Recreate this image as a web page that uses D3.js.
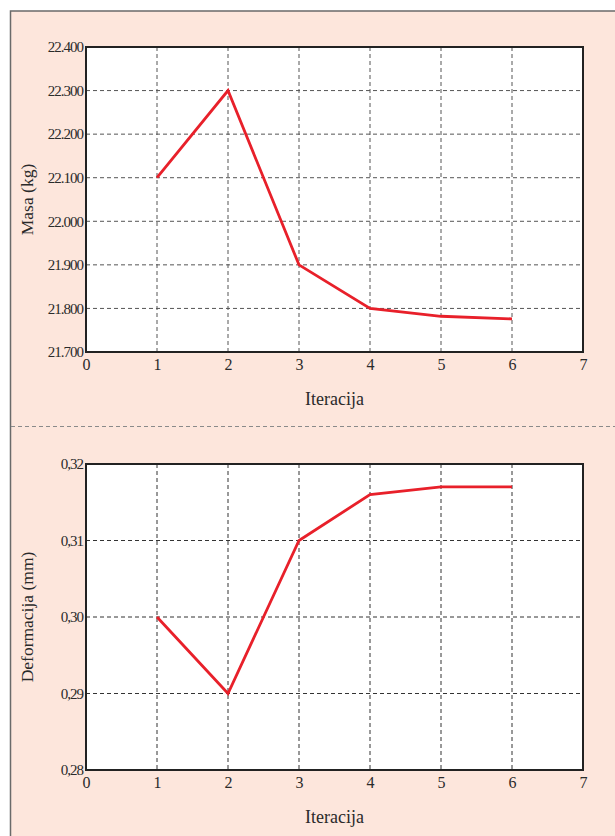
<!DOCTYPE html>
<html><head><meta charset="utf-8">
<script src="https://cdn.jsdelivr.net/npm/d3@7"></script>
<style>
body{margin:0;background:#fff;}
svg{display:block;}
</style></head><body>
<svg id="c" width="615" height="836"></svg>
<script>
const iterations = [1, 2, 3, 4, 5, 6];
const masa = [22100, 22300, 21900, 21800, 21782, 21776];
const deformacija = [0.300, 0.290, 0.310, 0.316, 0.317, 0.317];
const xTicks = [0, 1, 2, 3, 4, 5, 6, 7];
const masaTicks = [21700, 21800, 21900, 22000, 22100, 22200, 22300, 22400];
const masaTickLabels = ["21.700","21.800","21.900","22.000","22.100","22.200","22.300","22.400"];
const defTicks = [0.28, 0.29, 0.30, 0.31, 0.32];
const defTickLabels = ["0,28","0,29","0,30","0,31","0,32"];

const FONT = "'Liberation Serif', 'DejaVu Serif', 'Times New Roman', serif";
const svg = d3.select("#c");
// frame
svg.append("rect").attr("x",10.5).attr("y",11).attr("width",620).attr("height",840)
  .attr("fill","#fde6dc").attr("stroke","#6a6a6a").attr("stroke-width",1.5);
// separator
svg.append("line").attr("x1",11).attr("x2",615).attr("y1",426.5).attr("y2",426.5)
  .attr("stroke","#8a8a8a").attr("stroke-width",1).attr("stroke-dasharray","4,3");

function panel(cfg){
  const L=86, R=583, T=cfg.top, B=cfg.bottom;
  const x = d3.scaleLinear().domain([0,7]).range([L,R]);
  const y = d3.scaleLinear().domain(cfg.domain).range([B,T]);
  const g = svg.append("g");
  g.append("rect").attr("x",L).attr("y",T).attr("width",R-L).attr("height",B-T).attr("fill","#fff");
  // grid
  g.selectAll(".vg").data(xTicks.filter(d=>d>0&&d<7)).join("line")
    .attr("x1",d=>x(d)).attr("x2",d=>x(d)).attr("y1",T).attr("y2",B)
    .attr("stroke",cfg.grid).attr("stroke-width",1).attr("stroke-dasharray","4,3");
  g.selectAll(".hg").data(cfg.ticks.slice(1,-1)).join("line")
    .attr("x1",L).attr("x2",R).attr("y1",d=>y(d)).attr("y2",d=>y(d))
    .attr("stroke",cfg.grid).attr("stroke-width",1).attr("stroke-dasharray","4,3");
  // line
  const line = d3.line().x((d,i)=>x(iterations[i])).y(d=>y(d));
  g.append("path").datum(cfg.values).attr("d",line).attr("fill","none")
    .attr("stroke","#e8202a").attr("stroke-width",2.8).attr("stroke-linejoin","miter");
  // border
  g.append("rect").attr("x",L).attr("y",T).attr("width",R-L).attr("height",B-T)
    .attr("fill","none").attr("stroke","#222").attr("stroke-width",2);
  // axes
  const ya = d3.axisLeft(y).tickValues(cfg.ticks).tickFormat((d,i)=>cfg.labels[i]).tickSize(0).tickPadding(3);
  const yg = g.append("g").attr("transform",`translate(${L},0)`).call(ya).attr("font-family",FONT);
  yg.select(".domain").remove();
  yg.selectAll("text").style("font-family",FONT).style("font-size","15px").style("letter-spacing","-1px").attr("fill","#2a2a2a");
  const xa = d3.axisBottom(x).tickValues(xTicks).tickFormat(d3.format("d")).tickSize(0).tickPadding(7);
  const xg = g.append("g").attr("transform",`translate(0,${B})`).call(xa).attr("font-family",FONT);
  xg.select(".domain").remove();
  xg.selectAll("text").style("font-family",FONT).style("font-size","16px").attr("fill","#2a2a2a");
  g.append("text").attr("x",(L+R)/2).attr("y",B+53).attr("text-anchor","middle")
    .style("font-family",FONT).style("font-size","18px").attr("fill","#2a2a2a").text("Iteracija");
  g.append("text").attr("transform",`translate(33,${(T+B)/2}) rotate(-90)`).attr("text-anchor","middle")
    .style("font-family",FONT).style("font-size","17.5px").attr("fill","#2a2a2a").text(cfg.title);
}
panel({top:47,bottom:352,domain:[21700,22400],ticks:masaTicks,labels:masaTickLabels,values:masa,title:"Masa (kg)",grid:"#555"});
panel({top:464,bottom:770,domain:[0.28,0.32],ticks:defTicks,labels:defTickLabels,values:deformacija,title:"Deformacija (mm)",grid:"#333"});
</script></body></html>
